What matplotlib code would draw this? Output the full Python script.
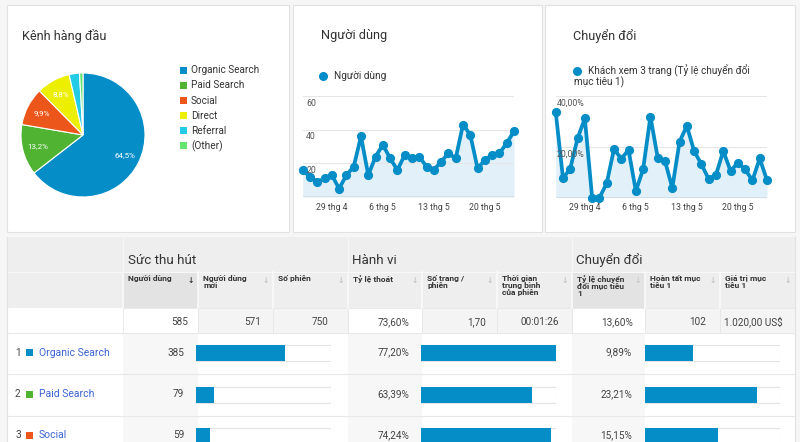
import matplotlib
matplotlib.use('Agg')
import matplotlib.pyplot as plt
from matplotlib.patches import Rectangle

plt.rcParams['font.family'] = ['Roboto', 'DejaVu Sans']

# ---------------- data ----------------
channels = ["Organic Search", "Paid Search", "Social", "Direct", "Referral", "(Other)"]
channel_share = [64.5, 13.2, 9.9, 8.8, 2.7, 0.9]
channel_colors = ["#058dc7", "#50b432", "#ed561b", "#edef00", "#24cbe5", "#64e572"]

users_daily = [16, 12, 9, 11, 13, 5, 13, 18, 36, 13, 24, 31, 23, 16, 25,
               23, 24, 18, 16, 21, 26, 23, 43, 37, 17, 22, 25, 26, 32, 39]
conv_daily = [33.6, 7.6, 11.4, 23.3, 31.1, 0.0, 0.0, 5.6, 19.1, 15.3, 18.7, 2.6, 11.2, 31.8, 15.7,
              14.4, 3.8, 22.0, 28.1, 18.3, 13.1, 7.3, 9.0, 18.3, 10.5, 13.7, 11.1, 6.8, 15.4, 6.8]
xtick_idx = [4, 11, 18, 25]
xtick_labels = ["29 thg 4", "6 thg 5", "13 thg 5", "20 thg 5"]
users_yticks = [20, 40, 60]
users_ytick_labels = ["20", "40", "60"]
conv_yticks = [20, 40]
conv_ytick_labels = ["20,00%", "40,00%"]

group_titles = ["Sức thu hút", "Hành vi", "Chuyển đổi"]
col_headers = ["Người dùng", "Người dùng\nmới", "Số phiên", "Tỷ lệ thoát", "Số trang /\nphiên",
               "Thời gian\ntrung bình\ncủa phiên", "Tỷ lệ chuyển\nđổi mục tiêu\n1",
               "Hoàn tất mục\ntiêu 1", "Giá trị mục\ntiêu 1"]
totals = ["585", "571", "750", "73,60%", "1,70", "00:01:26", "13,60%", "102", "1.020,00 US$"]
row_channels = ["Organic Search", "Paid Search", "Social"]
row_users = [385, 79, 59]
row_bounce = [77.20, 63.39, 74.24]
row_conv = [9.89, 23.21, 15.15]
total_users = 585
conv_bar_max = 28.0

# ---------------- figure ----------------
W, H = 800, 442
fig = plt.figure(figsize=(8, 4.42), dpi=100)
fig.patch.set_facecolor('#f6f6f6')

def ax_px(x0, y0, x1, y1, **kw):
    return fig.add_axes([x0 / W, 1 - y1 / H, (x1 - x0) / W, (y1 - y0) / H], **kw)

bg = ax_px(0, 0, W, H)
bg.set_xlim(0, W)
bg.set_ylim(H, 0)
bg.axis('off')

TXT = '#333333'
VAL = '#444444'

# top panels
for (x0, x1) in [(7, 289), (293, 542), (545, 795)]:
    bg.add_patch(Rectangle((x0, 5), x1 - x0, 227, fc='white', ec='#e2e2e2', lw=0.8))

bg.text(22, 36, "Kênh hàng đầu", fontsize=9.2, color=TXT, va='center')
bg.text(321, 36, "Người dùng", fontsize=9.2, color=TXT, va='center')
bg.text(573, 36, "Chuyển đổi", fontsize=9.2, color=TXT, va='center')

# ---------------- pie ----------------
cx, cy, r = 83, 135, 62
pax = ax_px(cx - r, cy - r, cx + r, cy + r)

def fmt_pct(p):
    return ("%.1f%%" % p).replace('.', ',') if p > 5 else ""

wedges, _, autotexts = pax.pie(channel_share, colors=channel_colors, startangle=90, counterclock=False,
                               autopct=fmt_pct, pctdistance=0.75,
                               wedgeprops=dict(edgecolor='white', linewidth=0.8),
                               textprops=dict(color='white', fontsize=5.8))
pax.set_xlim(-1, 1)
pax.set_ylim(-1, 1)
pax.set_aspect('equal')

for i, name in enumerate(channels):
    y = 70.3 + 15.1 * i
    bg.add_patch(Rectangle((180, y - 3.5), 7, 7, fc=channel_colors[i], ec='none'))
    bg.text(191, y, name, fontsize=7.2, color=TXT, va='center')

# ---------------- line charts ----------------
LINE = '#058dc7'
FILL = '#e2f1f9'

def line_chart(x0, x1, ybase, ytop, data, ymax, yticks, ylabels, label_x):
    ax = ax_px(x0, ytop, x1, ybase)
    ax.patch.set_alpha(0)
    xs = list(range(len(data)))
    ax.fill_between(xs, data, 0, color=FILL, lw=0)
    for t in yticks:
        ax.axhline(t, color='#e6e6e6', lw=0.8, zorder=1)
    ax.axhline(0, color='#9a9a9a', lw=1.0, zorder=2)
    ax.plot(xs, data, color=LINE, lw=2.7, marker='o', ms=5.6, clip_on=False, zorder=3)
    ax.set_xlim(0, len(data) - 1)
    ax.set_ylim(0, ymax)
    ax.axis('off')
    for t, lab in zip(yticks, ylabels):
        ax.annotate(lab, (0, t), xytext=(label_x, -2), textcoords='offset points',
                    fontsize=6.3, color='#555555', va='top', ha='left')
    for i, lab in zip(xtick_idx, xtick_labels):
        ax.annotate(lab, (i, 0), xytext=(0, -7.2), textcoords='offset points',
                    fontsize=6.3, color='#444444', va='center', ha='center', annotation_clip=False)
    return ax

line_chart(302.7, 514, 197, 96, users_daily, 60, users_yticks, users_ytick_labels, 2.5)
line_chart(555.7, 767, 197.7, 95.7, conv_daily, 40, conv_yticks, conv_ytick_labels, 1.0)

bg.plot([323.3], [76], 'o', color=LINE, ms=5.5)
bg.text(334, 76, "Người dùng", fontsize=7.2, color=TXT, va='center')
bg.plot([576.7], [71], 'o', color=LINE, ms=5.5)
bg.text(587.5, 71, "Khách xem 3 trang (Tỷ lệ chuyển đổi", fontsize=7.2, color=TXT, va='center')
bg.text(574, 82, "mục tiêu 1)", fontsize=7.2, color=TXT, va='center')

# ---------------- table ----------------
bounds = [123, 198, 273, 348, 422, 497, 572, 645, 720, 795]
first_of_group = {0, 3, 6}

bg.add_patch(Rectangle((7, 237), 788, 71, fc='#eeeeee', ec='none'))
for i in range(9):
    if i in (0, 6):
        bg.add_patch(Rectangle((bounds[i], 272), bounds[i + 1] - bounds[i], 36, fc='#e3e3e3', ec='none'))
bg.plot([7, 795], [272, 272], color='#f8f8f8', lw=0.8)
for x in bounds[:-1]:
    bg.plot([x, x], [272, 308], color='#fafafa', lw=1.2)
for x in (123, 348, 572):
    bg.plot([x, x], [237, 272], color='#f6f6f6', lw=0.8)

for g, x in zip(group_titles, [128, 352, 576]):
    bg.text(x, 260, g, fontsize=9.6, color=TXT, va='center')

for i, h in enumerate(col_headers):
    bg.text(bounds[i] + 5, 275.5, h, fontsize=6.0, color=TXT, fontweight='bold', va='top', ha='left',
            linespacing=0.98)
    bg.text(bounds[i + 1] - 7, 280.5, "↓", fontsize=5.5, color='#333333' if i == 0 else '#c4c4c4',
            ha='center', va='center', fontweight='bold')

# total row
bg.add_patch(Rectangle((7, 308), 788, 25, fc='white', ec='none'))
for i in range(9):
    fc = 'white' if i in first_of_group else '#f4f4f4'
    bg.add_patch(Rectangle((bounds[i], 308), bounds[i + 1] - bounds[i], 25, fc=fc, ec='#e6e6e6', lw=0.6))
tot_right = [188, 261, 329, 409, 486, 559, 633, 706, 783]
for t, x in zip(totals, tot_right):
    bg.text(x, 322, t, fontsize=7.2, color=VAL, ha='right', va='center')

# data rows
bg.add_patch(Rectangle((7, 333), 788, 109, fc='white', ec='none'))
for x0 in (123, 348, 572):
    bg.add_patch(Rectangle((x0, 333), bounds[bounds.index(x0) + 1] - x0, 109, fc='#f7f7f7', ec='none'))
for y in (333, 374, 416):
    bg.plot([7, 795], [y, y], color='#e8e8e8', lw=0.8)
bg.plot([7, 7], [237, 442], color='#e2e2e2', lw=0.8)
bg.plot([795, 795], [237, 442], color='#e2e2e2', lw=0.8)

row_c = [352.5, 394, 435.5]
for k, name in enumerate(row_channels):
    y = row_c[k]
    bg.text(15, y, str(k + 1), fontsize=7.2, color=VAL, va='center')
    bg.add_patch(Rectangle((26, y - 3.3), 7, 7, fc=channel_colors[k], ec='none'))
    bg.text(39, y, name, fontsize=7.5, color='#3b63d3', va='center')
    bg.text(184, y, str(row_users[k]), fontsize=7.2, color=VAL, ha='right', va='center')
    bg.text(409, y, ("%.2f%%" % row_bounce[k]).replace('.', ','), fontsize=7.2, color=VAL, ha='right', va='center')
    bg.text(632, y, ("%.2f%%" % row_conv[k]).replace('.', ','), fontsize=7.2, color=VAL, ha='right', va='center')

def bar_col(x0, values, vmax):
    ax = ax_px(x0, 333, x0 + 135, 442)
    ax.patch.set_alpha(0)
    pitch = 41.5
    top = (333 - 353) / pitch
    bottom = (442 - 353) / pitch
    ys = list(range(len(values)))
    ax.barh(ys, [vmax] * len(values), height=16 / pitch, color='white', edgecolor='#e4e4e4', lw=0.8)
    ax.barh(ys, values, height=16 / pitch, color=LINE, edgecolor='none')
    ax.set_xlim(0, vmax)
    ax.set_ylim(bottom, top)
    ax.axis('off')

bar_col(196, row_users, total_users)
bar_col(421, row_bounce, max(row_bounce))
bar_col(645, row_conv, conv_bar_max)

fig.savefig('out.png', dpi=100)
